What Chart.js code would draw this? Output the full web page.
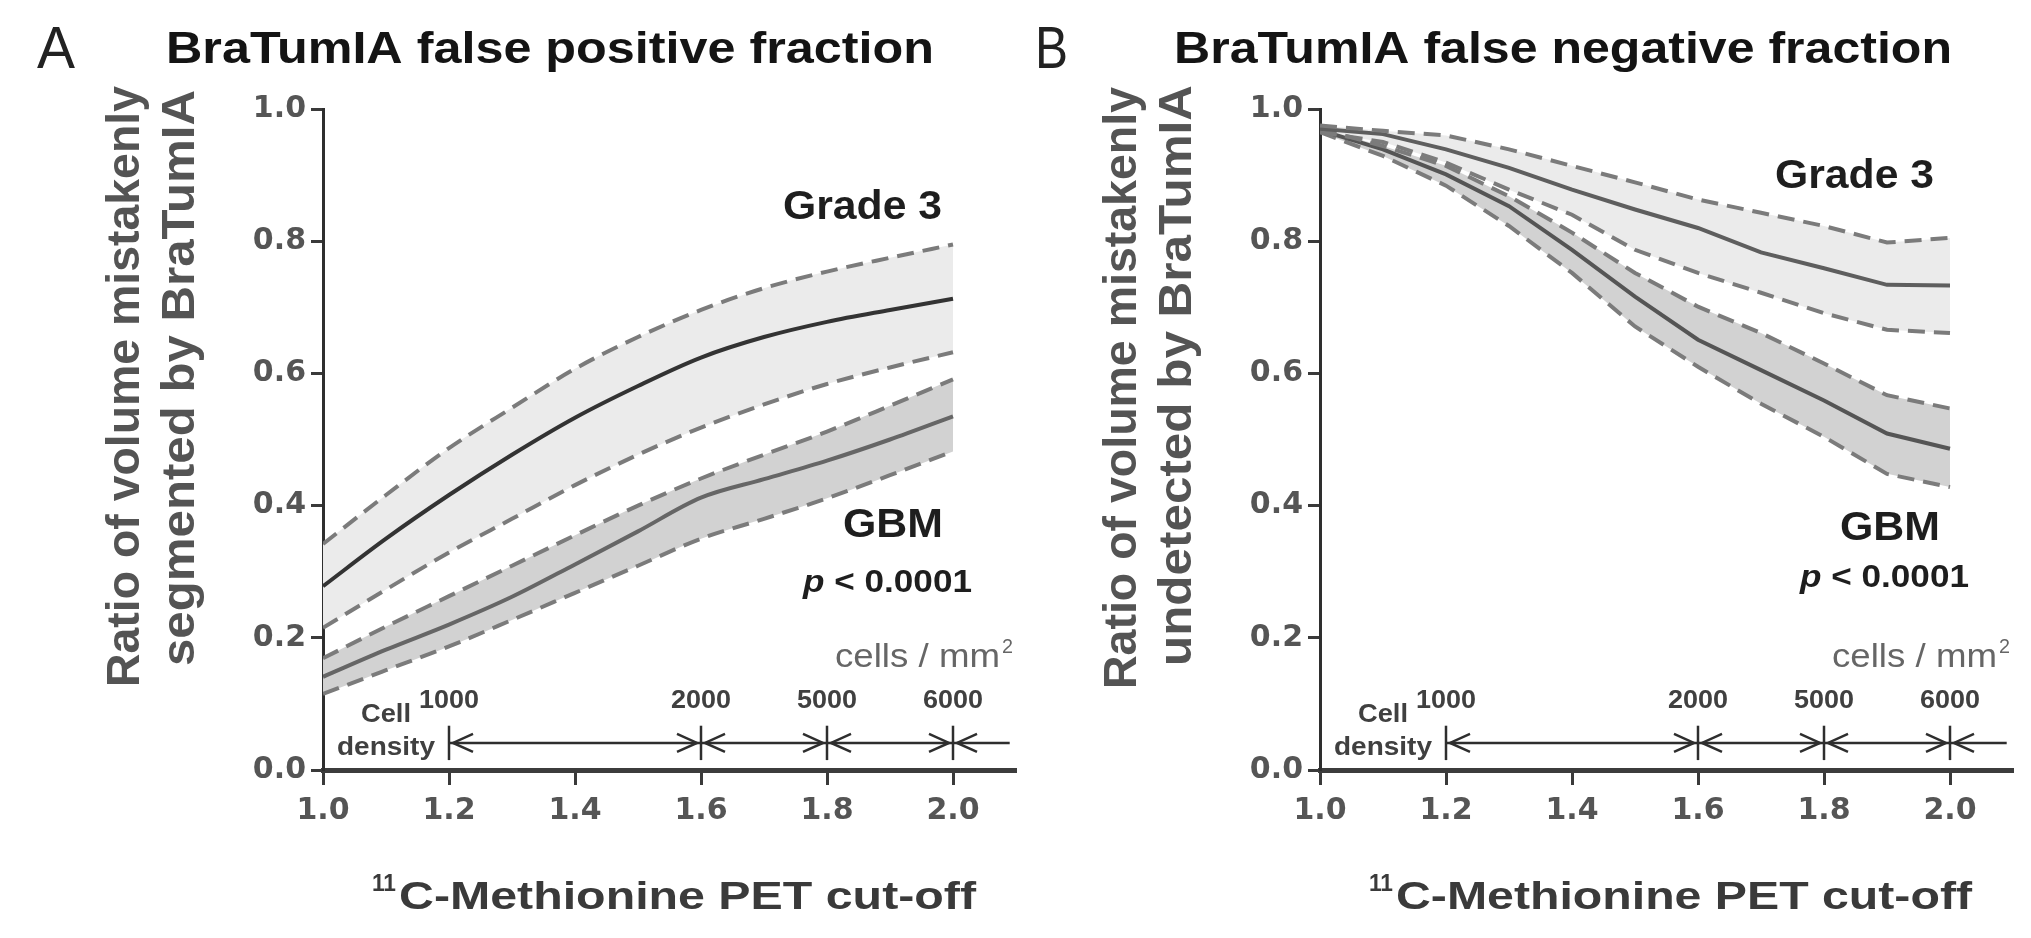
<!DOCTYPE html>
<html><head><meta charset="utf-8">
<script src="https://cdn.jsdelivr.net/npm/chart.js@4.4.1/dist/chart.umd.min.js"></script>
<style>
html,body{margin:0;padding:0;background:#fff;width:2031px;height:938px;overflow:hidden}
canvas{position:absolute;top:0}
#cA{left:0}
#cB{left:1017px}
</style></head><body>
<canvas id="cA" width="1017" height="938"></canvas>
<canvas id="cB" width="1014" height="938"></canvas>
<script>
// ---------- data ----------
const cutoffs = [1.0, 1.1, 1.2, 1.3, 1.4, 1.5, 1.6, 1.7, 1.8, 1.9, 2.0];
const xTickValues = [1.0, 1.2, 1.4, 1.6, 1.8, 2.0];
const yTickValues = [0.0, 0.2, 0.4, 0.6, 0.8, 1.0];

// Panel A: false positive fraction
const fpGrade3Upper = [0.342, 0.416, 0.487, 0.548, 0.607, 0.655, 0.696, 0.729, 0.754, 0.775, 0.795];
const fpGrade3Mean  = [0.278, 0.350, 0.416, 0.477, 0.533, 0.581, 0.624, 0.655, 0.678, 0.696, 0.713];
const fpGrade3Lower = [0.215, 0.273, 0.329, 0.380, 0.431, 0.477, 0.518, 0.553, 0.584, 0.609, 0.632];
const fpGbmUpper    = [0.169, 0.217, 0.263, 0.309, 0.355, 0.400, 0.441, 0.477, 0.512, 0.551, 0.591];
const fpGbmMean     = [0.141, 0.182, 0.220, 0.262, 0.311, 0.361, 0.412, 0.440, 0.468, 0.500, 0.535];
const fpGbmLower    = [0.115, 0.151, 0.187, 0.227, 0.268, 0.309, 0.350, 0.380, 0.411, 0.446, 0.482];

// Panel B: false negative fraction
const fnGrade3Upper = [0.975, 0.967, 0.960, 0.939, 0.914, 0.889, 0.863, 0.843, 0.823, 0.798, 0.805];
const fnGrade3Mean  = [0.970, 0.962, 0.939, 0.911, 0.878, 0.848, 0.820, 0.783, 0.759, 0.734, 0.733];
const fnGrade3Lower = [0.965, 0.950, 0.919, 0.878, 0.840, 0.787, 0.752, 0.722, 0.691, 0.666, 0.661];
const fnGbmUpper    = [0.970, 0.944, 0.914, 0.868, 0.813, 0.752, 0.701, 0.661, 0.615, 0.567, 0.547];
const fnGbmMean     = [0.968, 0.939, 0.901, 0.853, 0.787, 0.716, 0.651, 0.605, 0.559, 0.509, 0.486];
const fnGbmLower    = [0.965, 0.929, 0.884, 0.823, 0.752, 0.671, 0.610, 0.554, 0.504, 0.448, 0.428];

// Cell density scale
const densityCuts   = [1.2, 1.6, 1.8, 2.0];
const densityLabels = ['1000', '2000', '5000', '6000'];

// ---------- helpers ----------
const LS = '"Liberation Sans", Arial, sans-serif';
function pts(arr){ return cutoffs.map((x,i)=>({x:x, y:arr[i]})); }

function txt(ctx, parts, x, y, align, width){
  ctx.save();
  let w = 0;
  parts.forEach(p=>{ ctx.font = p.font; p.w = ctx.measureText(p.s).width; w += p.w; });
  const sx = width ? width / w : 1;
  const W = w * sx;
  const left = align === 'right' ? x - W : (align === 'center' ? x - W/2 : x);
  ctx.translate(left, y);
  ctx.scale(sx, 1);
  ctx.textAlign = 'left';
  ctx.textBaseline = 'alphabetic';
  let cx = 0;
  parts.forEach(p=>{
    ctx.font = p.font; ctx.fillStyle = p.color;
    ctx.fillText(p.s, cx, p.dy || 0);
    cx += p.w;
  });
  ctx.restore();
}
function vtxt(ctx, s, x, yBottom, yTop, font, color){
  ctx.save();
  ctx.font = font; ctx.fillStyle = color;
  const w = ctx.measureText(s).width;
  ctx.translate(x, yBottom);
  ctx.rotate(-Math.PI/2);
  ctx.scale((yBottom - yTop) / w, 1);
  ctx.textAlign = 'left'; ctx.textBaseline = 'alphabetic';
  ctx.fillText(s, 0, 0);
  ctx.restore();
}

const decorPlugin = {
  id: 'decor',
  afterDatasetsDraw(chart, args, o){
    const ctx = chart.ctx;
    const off = o.offset;
    const X = v => v - off;
    const xs = chart.scales.x, ys = chart.scales.y;

    // panel letter
    txt(ctx, [{s:o.letter, font:'59px '+LS, color:'#222'}], X(o.letterX), 68, 'left', o.letterW);
    // title
    txt(ctx, [{s:o.title, font:'bold 44px '+LS, color:'#141414'}], X(o.titleL), 63, 'left', o.titleR - o.titleL);
    // y-axis title (two lines)
    vtxt(ctx, o.yTitle1, X(o.yT1x), o.yT1b, o.yT1t, 'bold 46px '+LS, '#545454');
    vtxt(ctx, o.yTitle2, X(o.yT2x), o.yT2b, o.yT2t, 'bold 46px '+LS, '#545454');
    // x-axis title
    txt(ctx, [{s:'11', font:'bold 24px '+LS, color:'#3a3a3a'}], X(o.xT1L), 891, 'left', 24);
    txt(ctx, [{s:'C-Methionine PET cut-off', font:'bold 38px '+LS, color:'#3a3a3a'}], X(o.xT1L + 27), 909, 'left', o.xTR - o.xT1L - 27);

    // group labels
    txt(ctx, [{s:'Grade 3', font:'bold 40px '+LS, color:'#1e1e1e'}], X(o.g3R), o.g3B, 'right', 159);
    txt(ctx, [{s:'GBM', font:'bold 40px '+LS, color:'#1e1e1e'}], X(o.gbmL), o.gbmB, 'left', 100);
    txt(ctx, [{s:'p', font:'italic bold 31px '+LS, color:'#1e1e1e'},
              {s:' < 0.0001', font:'bold 31px '+LS, color:'#1e1e1e'}], X(o.pL), o.pB, 'left', 169);
    txt(ctx, [{s:'cells / mm', font:'33px '+LS, color:'#666'}], X(o.cellsL), 667, 'left', 165);
    txt(ctx, [{s:'2', font:'21px '+LS, color:'#666'}], X(o.cellsL + 167), 653, 'left', 11);

    // cell density scale
    const yLine = ys.getPixelForValue(0.041);
    const yBarTop = ys.getPixelForValue(0.067), yBarBot = ys.getPixelForValue(0.015);
    const xEnd = xs.getPixelForValue(2.09);
    ctx.save();
    ctx.strokeStyle = '#2e2e2e';
    ctx.lineWidth = 2.5;
    ctx.lineCap = 'butt';
    ctx.beginPath();
    ctx.moveTo(xs.getPixelForValue(densityCuts[0]), yLine);
    ctx.lineTo(xEnd, yLine);
    ctx.stroke();
    densityCuts.forEach((c,i)=>{
      const px = xs.getPixelForValue(c);
      ctx.beginPath(); ctx.moveTo(px, yBarTop); ctx.lineTo(px, yBarBot); ctx.stroke();
      ctx.beginPath();
      ctx.moveTo(px + 24, yLine - 9); ctx.lineTo(px + 4, yLine); ctx.lineTo(px + 24, yLine + 9);
      ctx.stroke();
      if (i > 0) {
        ctx.beginPath();
        ctx.moveTo(px - 24, yLine - 9); ctx.lineTo(px - 4, yLine); ctx.lineTo(px - 24, yLine + 9);
        ctx.stroke();
      }
      txt(ctx, [{s:densityLabels[i], font:'bold 25px '+LS, color:'#404040'}], px, 708, 'center', 60);
    });
    ctx.restore();
    const x12 = xs.getPixelForValue(densityCuts[0]);
    txt(ctx, [{s:'Cell', font:'bold 26px '+LS, color:'#404040'}], x12 - 63, 722, 'center', 50);
    txt(ctx, [{s:'density', font:'bold 26px '+LS, color:'#404040'}], x12 - 63, 755, 'center', 98);
  }
};

function makeChart(id, set, o){
  const dashCol = '#7b7b7b';
  const mk = (arr, solidCol, fill, bg) => ({
    data: pts(arr),
    borderColor: solidCol || dashCol,
    borderDash: solidCol ? [] : [17, 9],
    borderWidth: 4,
    pointRadius: 0,
    fill: fill || false,
    backgroundColor: bg || 'transparent',
    tension: set.tension,
    cubicInterpolationMode: set.mono ? 'monotone' : 'default'
  });
  return new Chart(document.getElementById(id), {
    type: 'line',
    data: { datasets: [
      mk(set.g3u, null, '+2', '#ebebeb'),
      mk(set.g3m, set.g3mCol),
      mk(set.g3l, null),
      mk(set.gbu, null, '+2', '#d2d2d2'),
      mk(set.gbm, set.gbmCol),
      mk(set.gbl, null)
    ]},
    plugins: [decorPlugin],
    options: {
      responsive: false,
      animation: false,
      devicePixelRatio: 1,
      layout: { padding: { top: 109, right: o.padR, bottom: 0, left: 0 } },
      plugins: {
        legend: { display: false },
        tooltip: { enabled: false },
        filler: { drawTime: 'beforeDatasetsDraw' },
        decor: o
      },
      scales: {
        x: {
          type: 'linear', min: 1.0, max: 2.1,
          afterBuildTicks: s => { s.ticks = xTickValues.map(v => ({ value: v })); },
          afterFit: s => { s.height = 168; },
          grid: { drawOnChartArea: false, drawTicks: true, tickLength: 15, tickWidth: 3, tickColor: '#3a3a3a' },
          border: { display: true, width: 5, color: '#3c3c3c' },
          ticks: { font: { family: 'DejaVu Sans', size: 30, weight: 'bold' }, color: '#555', padding: 8,
                   maxRotation: 0, autoSkip: false, callback: v => Number(v).toFixed(1) }
        },
        y: {
          type: 'linear', min: 0, max: 1.0,
          afterBuildTicks: s => { s.ticks = yTickValues.map(v => ({ value: v })); },
          afterFit: s => { s.width = o.yW; },
          grid: { drawOnChartArea: false, drawTicks: true, tickLength: 12, tickWidth: 3, tickColor: '#3a3a3a' },
          border: { display: true, width: 3, color: '#2e2e2e' },
          ticks: { font: { family: 'DejaVu Sans', size: 30, weight: 'bold' }, color: '#555', padding: 5,
                   callback: v => Number(v).toFixed(1) }
        }
      }
    }
  });
}

makeChart('cA',
  { g3u: fpGrade3Upper, g3m: fpGrade3Mean, g3l: fpGrade3Lower, gbu: fpGbmUpper, gbm: fpGbmMean, gbl: fpGbmLower,
    g3mCol: '#333', gbmCol: '#666', tension: 0.4, mono: true },
  { offset: 0, padR: 1, yW: 323, letter: 'A', letterX: 37, letterW: 38,
    title: 'BraTumIA false positive fraction', titleL: 166, titleR: 934,
    yTitle1: 'Ratio of volume mistakenly', yT1x: 139, yT1b: 687, yT1t: 86,
    yTitle2: 'segmented by BraTumIA', yT2x: 194, yT2b: 666, yT2t: 90,
    xT1L: 372, xTR: 976,
    g3R: 942, g3B: 219, gbmL: 843, gbmB: 537, pL: 803, pB: 592, cellsL: 835 });

makeChart('cB',
  { g3u: fnGrade3Upper, g3m: fnGrade3Mean, g3l: fnGrade3Lower, gbu: fnGbmUpper, gbm: fnGbmMean, gbl: fnGbmLower,
    g3mCol: '#5e5e5e', gbmCol: '#555', tension: 0, mono: false },
  { offset: 1017, padR: 18, yW: 303, letter: 'B', letterX: 1035, letterW: 33,
    title: 'BraTumIA false negative fraction', titleL: 1174, titleR: 1952,
    yTitle1: 'Ratio of volume mistakenly', yT1x: 1136, yT1b: 689, yT1t: 87,
    yTitle2: 'undetected by BraTumIA', yT2x: 1191, yT2b: 666, yT2t: 85,
    xT1L: 1369, xTR: 1972,
    g3R: 1934, g3B: 188, gbmL: 1840, gbmB: 540, pL: 1800, pB: 587, cellsL: 1832 });
</script>
</body></html>
